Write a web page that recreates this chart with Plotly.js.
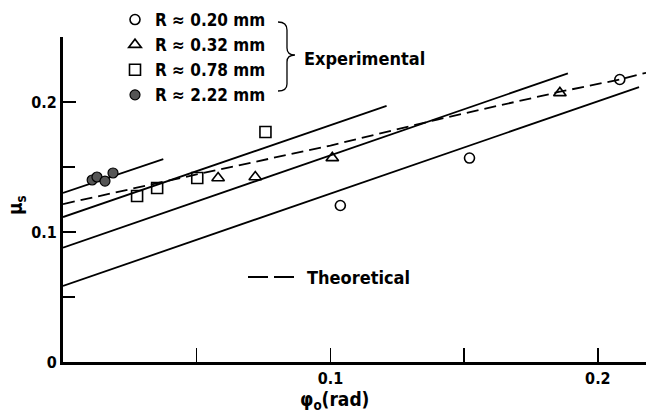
<!DOCTYPE html>
<html>
<head>
<meta charset="utf-8">
<script src="https://cdn.plot.ly/plotly-3.0.1.min.js"></script>
<style>html,body{margin:0;padding:0;background:#fff;}#chart{width:646px;height:413px;}</style>
</head>
<body>
<div id="chart"></div>
<script>
// ---- data ----
const r020_x = [0.1037, 0.1520, 0.2082];
const r020_y = [0.1204, 0.1569, 0.2173];
const r032_x = [0.0580, 0.0719, 0.1007, 0.1858];
const r032_y = [0.1415, 0.1423, 0.1570, 0.2070];
const r078_x = [0.0277, 0.0352, 0.0502, 0.0757];
const r078_y = [0.1277, 0.1338, 0.1415, 0.1769];
const r222_x = [0.0109, 0.0127, 0.0157, 0.0187];
const r222_y = [0.1400, 0.1423, 0.1392, 0.1454];

const fitA_x = [0, 0.0375];  const fitA_y = [0.130, 0.156];
const fitB_x = [0, 0.121];   const fitB_y = [0.1115, 0.197];
const fitC_x = [0, 0.1888];  const fitC_y = [0.088, 0.222];
const fitD_x = [0, 0.2154];  const fitD_y = [0.0585, 0.2115];

const theo_x = [0, 0.05, 0.10, 0.14, 0.1854, 0.2082, 0.218];
const theo_y = [0.1215, 0.1443, 0.1665, 0.1865, 0.2077, 0.2173, 0.2225];

const legendNames = ["R \u2248 0.20 mm", "R \u2248 0.32 mm", "R \u2248 0.78 mm", "R \u2248 2.22 mm"];
const yTickVals = [0, 0.1, 0.2];
const yTickText = ["0", "0.1", "0.2"];
const yMinorVals = [0.05, 0.15, 0.25];
const xTickVals = [0.1, 0.2];
const xTickText = ["0.1", "0.2"];
const xMinorVals = [0.05, 0.15];

// ---- layout helpers ----
const W = 646, H = 413, ML = 63, MR = 0, MT = 37, MB = 51;
const pxX = p => (p - ML) / (W - ML - MR);
const pxY = p => (H - MB - p) / (H - MT - MB);
const FONT = "DejaVu Sans Condensed, DejaVu Sans, sans-serif";
const f = (s) => ({family: FONT, size: s, color: "#000", weight: "bold"});

function line(x, y, dash) {
  return {x, y, type: "scatter", mode: "lines", showlegend: false, hoverinfo: "skip",
          line: {color: "#000", width: 1.8, dash: dash || "solid"}};
}
function pts(x, y, name, marker) {
  return {x, y, name, type: "scatter", mode: "markers", marker, cliponaxis: false};
}

const traces = [
  line(fitA_x, fitA_y), line(fitB_x, fitB_y), line(fitC_x, fitC_y), line(fitD_x, fitD_y),
  line(theo_x, theo_y, "12px,6px"),
  pts(r020_x, r020_y, legendNames[0], {symbol: "circle-open", size: 10, color: "#000", line: {width: 1.6, color: "#000"}}),
  pts(r032_x, r032_y, legendNames[1], {symbol: "triangle-up-open", size: 11, color: "#000", line: {width: 1.6, color: "#000"}}),
  pts(r078_x, r078_y, legendNames[2], {symbol: "square-open", size: 11, color: "#000", line: {width: 1.6, color: "#000"}}),
  pts(r222_x, r222_y, legendNames[3], {symbol: "circle", size: 10, color: "#555", line: {width: 1.2, color: "#000"}})
];

// brace path (pixel points -> paper)
function P(x, y) { return pxX(x).toFixed(4) + "," + pxY(y).toFixed(4); }
const brace = "M" + P(278, 22) + " Q" + P(287, 22) + " " + P(287, 30) +
  " L" + P(287, 48) + " Q" + P(287, 55) + " " + P(295, 55) +
  " Q" + P(287, 55) + " " + P(287, 62) + " L" + P(287, 84) +
  " Q" + P(287, 91) + " " + P(278, 91);

const layout = {
  width: W, height: H,
  margin: {l: ML, r: MR, t: MT, b: MB, pad: 0, autoexpand: false},
  paper_bgcolor: "#fff", plot_bgcolor: "#fff",
  font: f(16),
  showlegend: true,
  legend: {x: 115 / W, y: 1 - 2 / H, xref: "container", yref: "container",
           xanchor: "left", yanchor: "top", bgcolor: "rgba(0,0,0,0)",
           font: f(17), itemwidth: 30, tracegroupgap: 0},
  xaxis: {range: [0, 0.218], showgrid: false, zeroline: false, showline: true, automargin: false,
          linecolor: "#000", linewidth: 2.5, ticks: "inside", ticklen: 14, tickwidth: 1.5,
          tickcolor: "#000", tickvals: xTickVals, ticktext: xTickText, tickfont: f(16),
          minor: {tickvals: xMinorVals, ticks: "inside", ticklen: 14, tickwidth: 1.5, tickcolor: "#000", showgrid: false}},
  yaxis: {range: [0, 0.25], showgrid: false, zeroline: false, showline: true, automargin: false,
          linecolor: "#000", linewidth: 3, ticks: "inside", ticklen: 13, tickwidth: 1.5,
          tickcolor: "#000", tickvals: yTickVals, ticktext: yTickText, tickfont: f(16),
          minor: {tickvals: yMinorVals, ticks: "inside", ticklen: 12, tickwidth: 1.5, tickcolor: "#000", showgrid: false}},
  shapes: [
    {type: "path", xref: "paper", yref: "paper", path: brace, line: {color: "#000", width: 1.3}},
    {type: "line", xref: "paper", yref: "paper", x0: pxX(248), x1: pxX(296), y0: pxY(277), y1: pxY(277),
     line: {color: "#000", width: 2, dash: "20px,6px"}}
  ],
  annotations: [
    {xref: "paper", yref: "paper", x: pxX(302), y: pxY(58), xanchor: "left", yanchor: "middle",
     text: "Experimental", showarrow: false, font: f(18)},
    {xref: "paper", yref: "paper", x: pxX(305), y: pxY(277), xanchor: "left", yanchor: "middle",
     text: "Theoretical", showarrow: false, font: f(18)},
    {xref: "paper", yref: "paper", x: pxX(334), y: pxY(400), xanchor: "center", yanchor: "middle",
     text: "\u03c6<sub>o</sub>(rad)", showarrow: false, font: f(19)},
    {xref: "paper", yref: "paper", x: pxX(16), y: pxY(205), xanchor: "center", yanchor: "middle",
     text: "\u03bc<sub>s</sub>", textangle: -90, showarrow: false, font: f(19)}
  ]
};

Plotly.newPlot("chart", traces, layout, {displayModeBar: false, staticPlot: true});
</script>
</body>
</html>
